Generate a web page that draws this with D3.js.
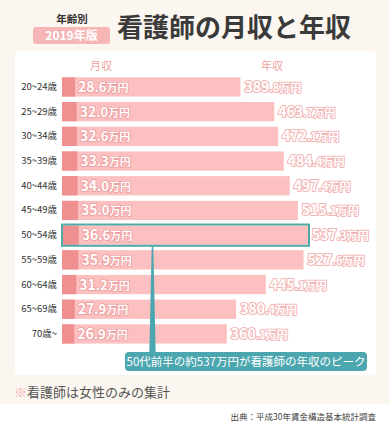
<!DOCTYPE html>
<html><head><meta charset="utf-8">
<script src="https://cdn.jsdelivr.net/npm/d3@7"></script>
<style>
html,body{margin:0;padding:0;background:#fff;}
svg{display:block;font-family:"Noto Sans CJK JP","Noto Sans",sans-serif;}
</style></head>
<body>
<script>
const ages = ["20~24歳","25~29歳","30~34歳","35~39歳","40~44歳","45~49歳","50~54歳","55~59歳","60~64歳","65~69歳","70歳~"];
const monthly = [28.6,32.0,32.6,33.3,34.0,35.0,36.6,35.9,31.2,27.9,26.9];
const annual = [389.8,463.7,472.1,484.4,497.4,515.1,537.3,527.6,445.1,380.4,360.1];
const highlightAge = "50~54歳";
const calloutText = "50代前半の約537万円が看護師の年収のピーク";

const W = 390, H = 423;
const svg = d3.select("body").append("svg").attr("width", W).attr("height", H);

// backgrounds
svg.append("rect").attr("x",0).attr("y",0).attr("width",W).attr("height",H).attr("fill","#ffffff");
svg.append("rect").attr("x",0).attr("y",0).attr("width",W).attr("height",404).attr("fill","#fbf6ef");
svg.append("rect").attr("x",15).attr("y",51).attr("width",361).attr("height",324).attr("rx",4).attr("fill","#ffffff");

// title
svg.append("text").attr("x",72).attr("y",23).attr("text-anchor","middle")
  .attr("font-size",10.5).attr("font-weight",700).attr("fill","#333").text("年齢別");
svg.append("rect").attr("x",33).attr("y",27).attr("width",77).attr("height",17).attr("rx",3).attr("fill","#f6b6b6");
svg.append("text").attr("x",71.5).attr("y",40).attr("text-anchor","middle")
  .attr("font-size",12).attr("font-weight",700).attr("fill","#fff").text("2019年版");
svg.append("text").attr("x",117).attr("y",37).attr("font-size",26).attr("font-weight",700)
  .attr("fill","#3a3a3a").text("看護師の月収と年収");

// scales
const x = d3.scaleLinear().domain([0, 537.3]).range([62, 308]);
const y = d3.scaleBand().domain(ages).range([74.6, 346.3]).paddingInner(0.22).paddingOuter(0.11);

// headers
svg.append("text").attr("x",101).attr("y",70).attr("text-anchor","middle").attr("font-size",11)
  .attr("fill","#f3a3a3").text("月収");
svg.append("text").attr("x",272).attr("y",70).attr("text-anchor","middle").attr("font-size",11)
  .attr("fill","#f3a3a3").text("年収");

// y axis labels
const yAxis = d3.axisLeft(y).tickSize(0).tickPadding(5);
const ga = svg.append("g").attr("transform","translate(62,0)").call(yAxis);
ga.select(".domain").remove();
ga.selectAll("text").attr("font-size",9.5).attr("fill","#333").attr("font-family","'Noto Sans CJK JP',sans-serif");

const rows = ages.map((a,i)=>({age:a, m:monthly[i], y:annual[i]}));

// annual bars
svg.append("g").selectAll("rect").data(rows).join("rect")
  .attr("x", x(0)).attr("y", d=>y(d.age)).attr("width", d=>x(d.y)-x(0)).attr("height", y.bandwidth())
  .attr("fill","#fdc0c0");
// monthly bars
svg.append("g").selectAll("rect").data(rows).join("rect")
  .attr("x", x(0)).attr("y", d=>y(d.age)).attr("width", d=>x(d.m)-x(0)).attr("height", y.bandwidth())
  .attr("fill","#ef8f8f");

function splitNum(v){ const s=v.toFixed(1); const k=s.indexOf("."); return [s.slice(0,k), s.slice(k)]; }

// monthly labels
const ml = svg.append("g").selectAll("text").data(rows).join("text")
  .attr("x", d=>x(d.m)+3).attr("y", d=>y(d.age)+y.bandwidth()/2+5)
  .attr("fill","#fff").attr("stroke","#ec9c9c").attr("stroke-width",1.6).attr("paint-order","stroke")
  .attr("font-weight",700).attr("font-size",14);
ml.append("tspan").text(d=>splitNum(d.m)[0]);
ml.append("tspan").attr("font-size",13).text(d=>splitNum(d.m)[1]);
ml.append("tspan").attr("font-size",11).text("万円");

// annual labels
const al = svg.append("g").selectAll("text").data(rows).join("text")
  .attr("x", d=>x(d.y)+4).attr("y", d=>y(d.age)+y.bandwidth()/2+5)
  .attr("fill","#fff").attr("stroke","#f3b5b5").attr("stroke-width",2).attr("paint-order","stroke")
  .attr("font-weight",700).attr("font-size",14);
al.append("tspan").text(d=>splitNum(d.y)[0]);
al.append("tspan").attr("font-size",11).text(d=>splitNum(d.y)[1]);
al.append("tspan").attr("font-size",11).text("万円");

// highlight
const hi = rows.find(d=>d.age===highlightAge);
svg.append("rect").attr("x", x(0)).attr("y", y(hi.age)-1).attr("width", x(hi.y)-x(0)+1)
  .attr("height", y.bandwidth()+2).attr("fill","none").attr("stroke","#4fa9a5").attr("stroke-width",2);

// callout pointer
const py0 = y(hi.age)+y.bandwidth()+2, py1 = 353, px = 152.5;
svg.append("path").attr("d", `M${px-0.8},${py0} L${px+0.8},${py0} L${px+3.2},${py1} L${px-3.2},${py1} Z`)
  .attr("fill","#4ba6af");
svg.append("rect").attr("x",125).attr("y",352).attr("width",242).attr("height",19).attr("rx",4).attr("fill","#4ba6af");
svg.append("text").attr("x",246).attr("y",366).attr("text-anchor","middle").attr("font-size",11.5)
  .attr("fill","#fff").text(calloutText);

// note
const note = svg.append("text").attr("x",14).attr("y",397).attr("font-size",13).attr("fill","#555");
note.append("tspan").attr("fill","#f4b0b0").text("※");
note.append("tspan").text("看護師は女性のみの集計");

// source
svg.append("text").attr("x",376).attr("y",420).attr("text-anchor","end").attr("font-size",8.5)
  .attr("fill","#444").text("出典：平成30年賃金構造基本統計調査");
</script>
</body></html>
